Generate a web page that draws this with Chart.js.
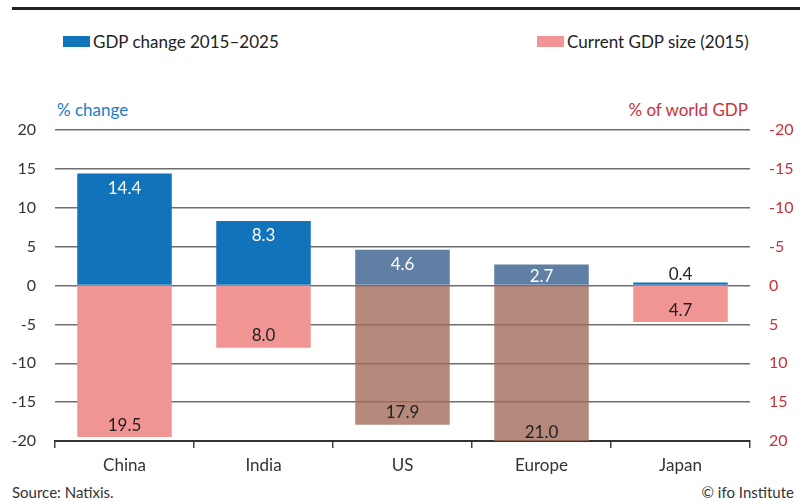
<!DOCTYPE html>
<html lang="en">
<head>
<meta charset="UTF-8">
<title>GDP change vs GDP size</title>
<script src="https://cdn.jsdelivr.net/npm/chart.js"></script>
<style>
    body { margin: 0; background: #fff; font-family: Lato, sans-serif; }
    #wrap { position: relative; width: 800px; height: 502px; overflow: hidden; }
    #wrap canvas { position: absolute; left: 0; top: 0; }
    .topline { position: absolute; left: 12px; right: 0; top: 7px; height: 3px; background: #222; }
    .leg { position: absolute; top: 31px; font-size: 17px; color: #222; display: flex; align-items: center; }
    .leg span.box { display: inline-block; width: 27px; height: 11px; margin-right: 3px; }
    .atitle { position: absolute; top: 99px; font-size: 17px; }
    .foot { position: absolute; top: 483px; font-size: 15px; color: #333; }
</style>
</head>
<body>
<div id="wrap">
    <div class="topline"></div>
    <div class="leg" style="left:63px"><span class="box" style="background:#1173ba"></span>GDP change 2015–2025</div>
    <div class="leg" style="left:537px"><span class="box" style="background:#f09594"></span>Current GDP size (2015)</div>
    <div class="atitle" style="left:57px;color:#1a7dc4">% change</div>
    <div class="atitle" style="right:52px;color:#c8313a">% of world GDP</div>
    <div class="foot" style="left:12px">Source: Natixis.</div>
    <div class="foot" style="right:6px">© ifo Institute</div>
    <canvas id="chart" width="800" height="502"></canvas>
</div>
<script>
    // data
    const regions = ['China', 'India', 'US', 'Europe', 'Japan'];
    const gdpChange = [14.4, 8.3, 4.6, 2.7, 0.4];       // % change 2015-2025
    const gdpShare = [19.5, 8.0, 17.9, 21.0, 4.7];      // % of world GDP 2015
    const changeColors = ['#1173ba', '#1173ba', 'rgba(55,95,143,0.8)', 'rgba(55,95,143,0.8)', '#1173ba'];
    const shareColors = ['#f09594', '#f09594', 'rgba(163,108,90,0.8)', 'rgba(163,108,90,0.8)', '#f09594'];

    const labelFont = '17px Lato, sans-serif';

    // value labels on the bars
    const barLabels = {
        id: 'barLabels',
        afterDatasetsDraw(chart) {
            const ctx = chart.ctx;
            const area = chart.chartArea;
            ctx.save();
            ctx.font = labelFont;
            ctx.textAlign = 'center';
            ctx.textBaseline = 'middle';
            chart.getDatasetMeta(0).data.forEach((el, i) => {
                const h = el.base - el.y;
                if (h > 20) {
                    ctx.fillStyle = '#fff';
                    ctx.fillText(gdpChange[i].toFixed(1), el.x, el.y + Math.min(15, h / 2 + 2));
                } else {
                    ctx.fillStyle = '#222';
                    ctx.fillText(gdpChange[i].toFixed(1), el.x, el.y - 8);
                }
            });
            chart.getDatasetMeta(1).data.forEach((el, i) => {
                const bottom = Math.min(el.y, area.bottom + 4);
                ctx.fillStyle = '#222';
                ctx.fillText(gdpShare[i].toFixed(1), el.x, bottom - 12);
            });
            ctx.restore();
        }
    };

    new Chart(document.getElementById('chart'), {
        type: 'bar',
        data: {
            labels: regions,
            datasets: [{
                label: 'GDP change 2015–2025',
                data: gdpChange,
                yAxisID: 'y',
                backgroundColor: changeColors
            }, {
                label: 'Current GDP size (2015)',
                data: gdpShare,
                yAxisID: 'y2',
                backgroundColor: shareColors
            }]
        },
        options: {
            responsive: false,
            animation: false,
            grouped: false,
            categoryPercentage: 0.68,
            barPercentage: 1,
            layout: { padding: { top: 130, left: 0, right: 0, bottom: 0 } },
            plugins: { legend: { display: false }, tooltip: { enabled: false } },
            scales: {
                x: {
                    grid: { offset: true, drawOnChartArea: false, drawTicks: true, tickLength: 7, color: '#444', lineWidth: 1.5 },
                    border: { display: true, color: '#333', width: 2 },
                    ticks: { color: '#333', font: { family: 'Lato', size: 17 }, padding: 7 },
                    afterFit: s => { s.height = 61; }
                },
                y: {
                    position: 'left',
                    min: -20, max: 20,
                    grid: { color: '#6e6e6e', lineWidth: 1.5, drawTicks: false },
                    border: { display: false },
                    ticks: { stepSize: 5, color: '#333', font: { family: 'Lato', size: 16 }, padding: 19 },
                    afterFit: s => { s.width = 55; }
                },
                y2: {
                    position: 'right',
                    reverse: true,
                    min: -20, max: 20,
                    grid: { display: false, drawTicks: false },
                    border: { display: false },
                    ticks: { stepSize: 5, color: '#c8313a', font: { family: 'Lato', size: 16 }, padding: 19 },
                    afterFit: s => { s.width = 50; }
                }
            }
        },
        plugins: [barLabels]
    });
</script>
</body>
</html>
